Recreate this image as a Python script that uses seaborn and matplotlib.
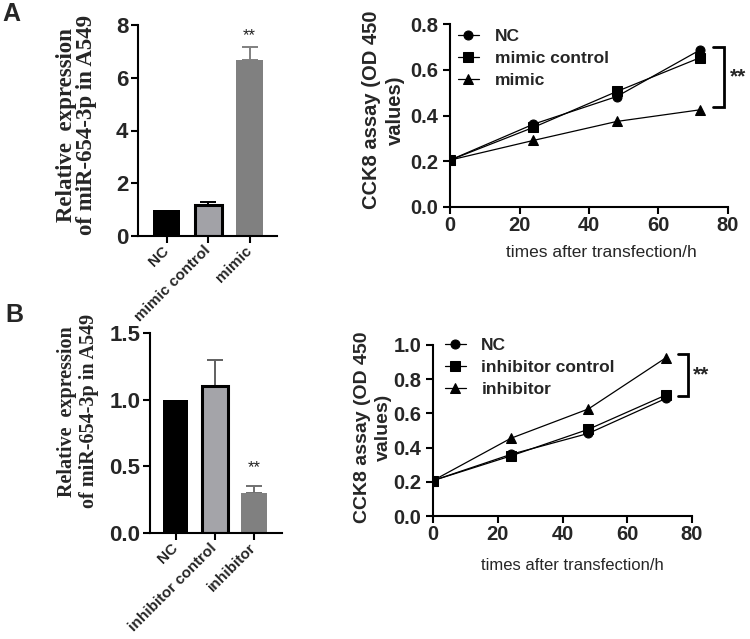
import matplotlib
matplotlib.use("Agg")
import matplotlib.pyplot as plt
import seaborn as sns
import numpy as np
import pandas as pd

# ---------------- data ----------------
bar_a_cats = ["NC", "mimic control", "mimic"]
bar_a_vals = [1.0, 1.18, 6.66]
bar_a_err = [0.0, 0.12, 0.50]

bar_b_cats = ["NC", "inhibitor control", "inhibitor"]
bar_b_vals = [1.0, 1.10, 0.30]
bar_b_err = [0.0, 0.20, 0.05]

times = [0, 24, 48, 72]
line_a_groups = ["NC", "mimic control", "mimic"]
line_a_nc = [0.205, 0.362, 0.483, 0.687]
line_a_ctrl = [0.205, 0.348, 0.505, 0.653]
line_a_mimic = [0.205, 0.291, 0.374, 0.425]

line_b_groups = ["NC", "inhibitor control", "inhibitor"]
line_b_nc = [0.207, 0.360, 0.483, 0.688]
line_b_ctrl = [0.207, 0.351, 0.507, 0.708]
line_b_inh = [0.207, 0.454, 0.626, 0.926]

bar_ylabel = "Relative  expression\nof miR-654-3p in A549"
line_ylabel = "CCK8 assay (OD 450\nvalues)"
line_xlabel = "times after transfection/h"

# ---------------- style ----------------
sns.set_theme(style="ticks")
plt.rcParams["font.family"] = ["Liberation Sans", "DejaVu Sans"]
plt.rcParams["axes.linewidth"] = 1.5

fig = plt.figure(figsize=(7.5, 6.39), dpi=100)
W, H = 750, 639


def ax_at(left, top, right, bottom):
    return fig.add_axes([left / W, (H - bottom) / H, (right - left) / W, (bottom - top) / H])


def bar_panel(ax, cats, vals, errs, fills, edges, ecols, ylim, yticks, fmt,
              tick_fs, lab_fs, lab_xy, xlim, sig_off, linesp):
    df = pd.DataFrame({"group": cats, "value": vals})
    sns.barplot(data=df, x="group", y="value", hue="group", palette=fills,
                legend=False, width=0.65, saturation=1, errorbar=None, ax=ax)
    for patch, ec in zip(ax.patches, edges):
        if ec is None:
            patch.set_linewidth(0)
        else:
            patch.set_edgecolor(ec)
            patch.set_linewidth(2.2)
        patch.set_zorder(2)
    for i, (v, e, c) in enumerate(zip(vals, errs, ecols)):
        if e > 0:
            ax.errorbar([i], [v], yerr=[[0], [e]], fmt="none", ecolor=c,
                        elinewidth=1.4, capsize=6, capthick=1.4, zorder=1)
    ax.text(2, vals[2] + errs[2] + sig_off, "**", ha="center", va="center",
            fontsize=12, color="#222222")
    ax.set_ylim(*ylim)
    ax.set_xlim(*xlim)
    ax.set_yticks(yticks)
    ax.set_yticklabels([fmt.format(t) for t in yticks], fontsize=tick_fs, fontweight="bold")
    ax.set_xticks(range(len(cats)))
    ax.set_xticklabels(cats, rotation=45, ha="right", va="center",
                       rotation_mode="anchor", fontsize=11, fontweight="bold")
    ax.tick_params(axis="both", width=1.5, length=5, color="black")
    ax.tick_params(axis="y", pad=2)
    ax.tick_params(axis="x", pad=4)
    ax.set_xlabel("")
    ax.set_ylabel(bar_ylabel, family="Liberation Serif", fontweight="bold",
                  fontsize=lab_fs, linespacing=linesp)
    ax.yaxis.set_label_coords(*lab_xy)
    sns.despine(ax=ax)
    for s in ["left", "bottom"]:
        ax.spines[s].set_color("black")


def line_panel(ax, groups, series, ylim, yticks, leg_xy, lab_fs, lab_xy, xlab_fs, xlab_xy,
               br_top_off, br_bot_off, br_pair):
    rows = []
    for g, ys in zip(groups, series):
        for t, y in zip(times, ys):
            rows.append({"time": t, "od": y, "group": g})
    df = pd.DataFrame(rows)
    markers = dict(zip(groups, ["o", "s", "^"]))
    sns.lineplot(data=df, x="time", y="od", hue="group", style="group",
                 hue_order=groups, style_order=groups,
                 markers=markers, dashes=False,
                 palette={g: "black" for g in groups},
                 markersize=6.5, markeredgecolor="black", linewidth=0.9, ax=ax)
    leg = ax.get_legend()
    handles = list(leg.legend_handles)
    labels = [t.get_text() for t in leg.get_texts()]
    for h in handles:
        h.set_markersize(6.5)
        h.set_linewidth(0.9)
        h.set_color("black")
        h.set_markeredgecolor("black")
        h.set_markerfacecolor("black")
    leg.remove()
    ax.legend(handles, labels, loc="upper left", bbox_to_anchor=leg_xy, frameon=False,
              prop={"weight": "bold", "size": 12.5}, handlelength=1.2,
              handletextpad=0.9, labelspacing=0.4, borderaxespad=0, borderpad=0)
    ax.set_xlim(0, 80)
    ax.set_ylim(*ylim)
    ax.set_xticks([0, 20, 40, 60, 80])
    ax.set_xticklabels(["0", "20", "40", "60", "80"], fontsize=14.5, fontweight="bold")
    ax.set_yticks(yticks)
    ax.set_yticklabels(["{:.1f}".format(t) for t in yticks], fontsize=14.5, fontweight="bold")
    ax.tick_params(axis="both", width=1.5, length=5, color="black")
    ax.tick_params(axis="x", pad=1.5)
    ax.set_xlabel(line_xlabel, fontsize=xlab_fs)
    ax.xaxis.set_label_coords(*xlab_xy)
    ax.set_ylabel(line_ylabel, fontsize=lab_fs, fontweight="bold", linespacing=1.3)
    ax.yaxis.set_label_coords(*lab_xy)
    sns.despine(ax=ax)
    for s in ["left", "bottom"]:
        ax.spines[s].set_color("black")
    # significance bracket
    a, b = br_pair
    top = series[a][-1] + br_top_off
    bot = series[b][-1] + br_bot_off
    x0 = times[-1] + 3.7
    x1 = times[-1] + 6.8
    ax.plot([x0, x1, x1, x0], [top, top, bot, bot], color="black", lw=2,
            clip_on=False, solid_joinstyle="miter")
    ax.text(x1 + 4.0, (top + bot) / 2, "**", ha="center", va="center",
            fontsize=15, fontweight="bold", clip_on=False)


# Panel A bar
axA = ax_at(138, 25, 277, 236)
bar_panel(axA, bar_a_cats, bar_a_vals, bar_a_err,
          fills=["#000000", "#a2a2a7", "#808080"],
          edges=[None, "#000000", None],
          ecols=["#000000", "#000000", "#808080"],
          ylim=(0, 8), yticks=[0, 2, 4, 6, 8], fmt="{:d}",
          tick_fs=16, lab_fs=16.5, lab_xy=(-0.295, 0.526),
          xlim=(-0.69, 2.66), sig_off=0.45, linesp=0.95)

# Panel B bar
axB = ax_at(150, 333, 282, 533)
bar_panel(axB, bar_b_cats, bar_b_vals, bar_b_err,
          fills=["#000000", "#a4a4a9", "#808080"],
          edges=[None, "#000000", None],
          ecols=["#000000", "#606060", "#707070"],
          ylim=(0, 1.5), yticks=[0.0, 0.5, 1.0, 1.5], fmt="{:.1f}",
          tick_fs=16, lab_fs=14.5, lab_xy=(-0.386, 0.609),
          xlim=(-0.65, 2.71), sig_off=0.14, linesp=1.15)

# Panel A line
axC = ax_at(450, 24, 728, 207)
line_panel(axC, line_a_groups, [line_a_nc, line_a_ctrl, line_a_mimic],
           ylim=(0, 0.8), yticks=[0.0, 0.2, 0.4, 0.6, 0.8],
           leg_xy=(0.029, 0.973), lab_fs=14.5, lab_xy=(-0.162, 0.53),
           xlab_fs=12.5, xlab_xy=(0.543, -0.209),
           br_top_off=0.012, br_bot_off=0.01, br_pair=(0, 2))

# Panel B line
axD = ax_at(433, 345, 692, 516)
line_panel(axD, line_b_groups, [line_b_nc, line_b_ctrl, line_b_inh],
           ylim=(0, 1.0), yticks=[0.0, 0.2, 0.4, 0.6, 0.8, 1.0],
           leg_xy=(0.046, 1.041), lab_fs=14, lab_xy=(-0.158, 0.52),
           xlab_fs=12, xlab_xy=(0.54, -0.246),
           br_top_off=0.021, br_bot_off=-0.006, br_pair=(2, 1))

fig.text(2 / W, 1 - 2 / H, "A", fontsize=18, fontweight="bold", va="top", ha="left")
fig.text(5 / W, 1 - 303 / H, "B", fontsize=18, fontweight="bold", va="top", ha="left")

fig.savefig("out.png", dpi=100)
